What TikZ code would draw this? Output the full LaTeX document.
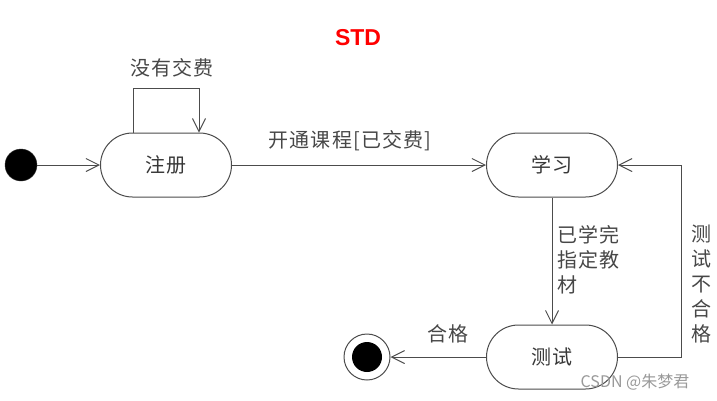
\documentclass[tikz,border=0pt]{standalone}
\usepackage{fontspec}
\setmainfont{Liberation Sans}
\newfontfamily\cjk{Noto Sans CJK SC}
\newfontfamily\cjksp{Noto Sans CJK SC}[LetterSpace=6]
\usetikzlibrary{arrows.meta}
\begin{document}
\begin{tikzpicture}[x=1pt,y=-1pt,
 line/.style={draw=black!70, line width=1pt},
 arr/.style={line, -{Straight Barb[length=13pt,width=13pt]}},
 state/.style={line, rectangle, rounded corners=32pt, minimum width=131pt, minimum height=64pt, font=\cjksp\fontsize{20}{22}\selectfont, text=black!78},
 lbl/.style={font=\cjksp\fontsize{20}{25}\selectfont, text=black!72, inner sep=0pt}]
\useasboundingbox[fill=white] (0,0) rectangle (717,400);
% title
\node[font=\fontsize{23}{26}\selectfont\bfseries, text=red] (title) at (358,38) {STD};
% states
\node[circle, fill=black, draw=black!80, minimum size=32pt, inner sep=0pt] (init) at (21,165) {};
\node[state] (reg) at (166,165) {注册};
\node[state] (study) at (552,165) {学习};
\node[state] (test) at (552,357) {测试};
\node[circle, draw=black!70, line width=1pt, minimum size=46pt, inner sep=0pt] (fin) at (367,357) {};
\node[circle, fill=black, minimum size=30pt, inner sep=0pt] (fincore) at (fin) {};
% self loop
\coordinate (l1) at (133,88);
\coordinate (l2) at (199,88);
\draw[arr] (reg.north -| l1) -- (l1) -- (l2) -- (reg.north -| l2);
\node[lbl] (lnopay) at (172,68) {没有交费};
% transitions
\draw[arr] (init.east) -- (reg.west);
\draw[arr] (reg.east) -- (study.west);
\node[lbl] (lopen) at (350,141) {开通课程[已交费]};
\draw[arr] (study.south) -- (test.north);
\node[lbl, align=left, anchor=west] (ldone) at (557,260) {已学完\\指定教\\材};
\coordinate (rc) at (681,260);
\draw[arr] (test.east) -| (rc) |- (study.east);
\node[lbl, align=center] (lfail) at (701,284) {测\\试\\不\\合\\格};
\draw[arr] (test.west) -- (fin.east);
\node[lbl] (lpass) at (448,334) {合格};
% watermark
\node[font=\cjk\fontsize{16}{18}\selectfont, text=black!40] (wm) at (635,382) {CSDN @朱梦君};
\end{tikzpicture}
\end{document}
